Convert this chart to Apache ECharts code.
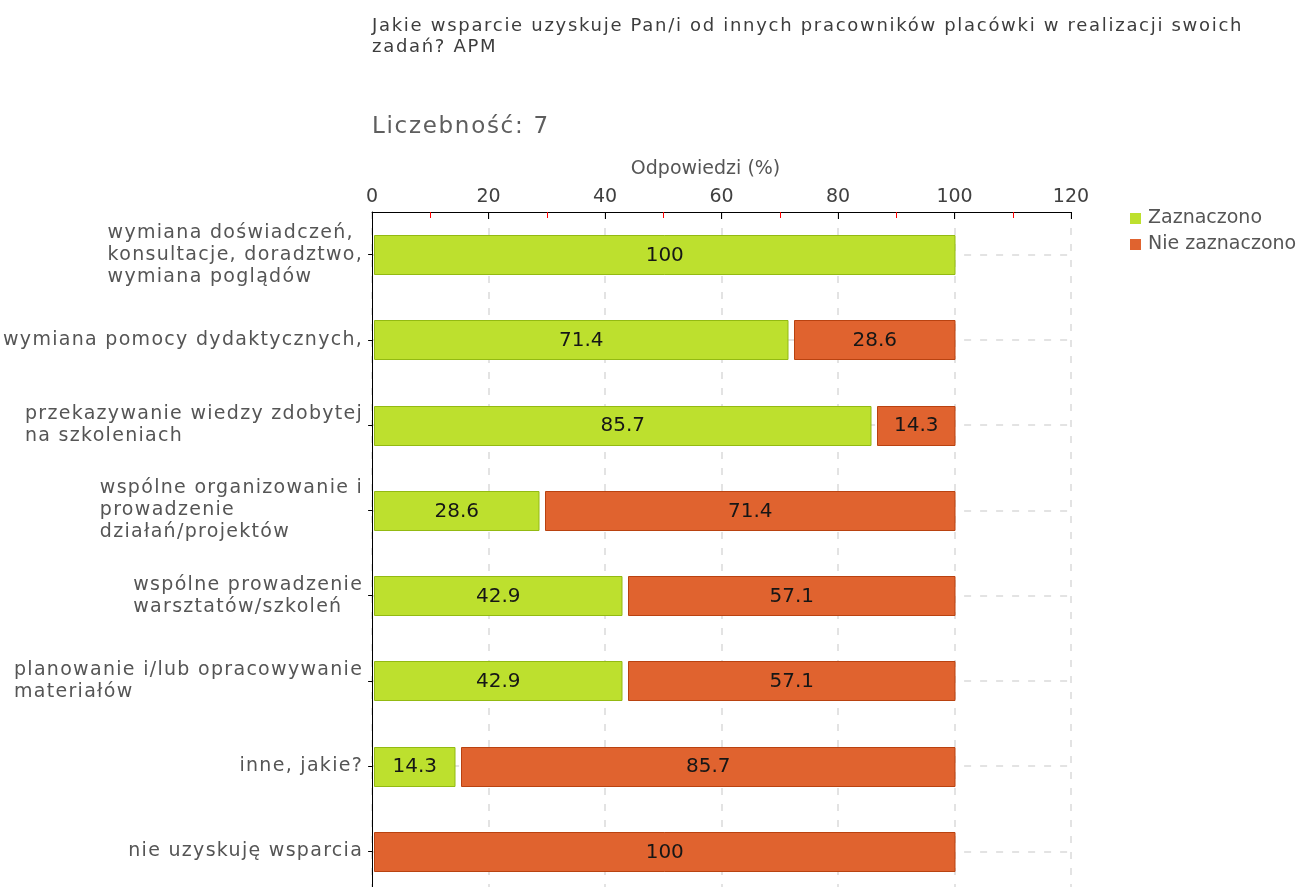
<!DOCTYPE html>
<html>
<head>
<meta charset="utf-8">
<title>Wsparcie od innych pracowników placówki</title>
<script src="https://cdn.jsdelivr.net/npm/echarts@6/dist/echarts.min.js"></script>
<style>
  html, body { margin: 0; padding: 0; background: #fff; overflow: hidden; }
  #chart { width: 1315px; height: 900px; }
</style>
</head>
<body>
<div id="chart"></div>
<script>
// Question, sample size and answer options (top to bottom)
const questionText = 'Jakie wsparcie uzyskuje Pan/i od innych pracowników placówki w realizacji swoich\nzadań? APM';
const sampleText = 'Liczebność: 7';
const axisTitle = 'Odpowiedzi (%)';
const seriesNames = ['Zaznaczono', 'Nie zaznaczono'];

const categories = [
  'wymiana doświadczeń,\nkonsultacje, doradztwo,\nwymiana poglądów',
  'wymiana pomocy dydaktycznych,',
  'przekazywanie wiedzy zdobytej\nna szkoleniach',
  'wspólne organizowanie i\nprowadzenie\ndziałań/projektów',
  'wspólne prowadzenie\nwarsztatów/szkoleń',
  'planowanie i/lub opracowywanie\nmateriałów',
  'inne, jakie?',
  'nie uzyskuję wsparcia'
];

// Share of respondents (%) per option
const zaznaczono     = [100, 71.4, 85.7, 28.6, 42.9, 42.9, 14.3, 0];
const nieZaznaczono  = [0,   28.6, 14.3, 71.4, 57.1, 57.1, 85.7, 100];

const xTicks = { min: 0, max: 120, interval: 20 };

const FONT = 'DejaVu Sans';
const LABEL_FONT = 'DejaVu Sans, Verdana';   // category labels, loosely tracked
const HEAD_FONT = 'DejaVu Sans, Tahoma';     // headings, more loosely tracked
const fills   = ['#bde02e', '#e0632f'];
const strokes = ['#93ba12', '#b94210'];

// Letter spacing for canvas text, chosen by the fallback family in the font
const TRACKING = [['Tahoma', '1.7px'], ['Verdana', '1.3px']];
(function () {
  const proto = CanvasRenderingContext2D.prototype;
  if (!('letterSpacing' in proto)) return;
  const pick = ctx => {
    const f = ctx.font;
    for (const [k, v] of TRACKING) if (f.indexOf(k) >= 0) return v;
    return '0px';
  };
  const fill = proto.fillText, stroke = proto.strokeText, measure = proto.measureText;
  proto.fillText = function () { this.letterSpacing = pick(this); return fill.apply(this, arguments); };
  proto.strokeText = function () { this.letterSpacing = pick(this); return stroke.apply(this, arguments); };
  proto.measureText = function () { this.letterSpacing = pick(this); return measure.apply(this, arguments); };
})();

// Each stacked segment: [category index, start value, segment value]
function segments(values, offsets) {
  return values.map((v, i) => [i, offsets ? offsets[i] : 0, v]);
}

function makeRender(k) {
  return function (params, api) {
    const i = api.value(0);
    const start = api.value(1);
    const val = api.value(2);
    if (!val) return null;
    const p0 = api.coord([start, i]);
    const p1 = api.coord([start + val, i]);
    const h = 39;
    const inset = start === 0 ? 2 : 6;
    const x = Math.round(p0[0] + inset) + 0.5;
    const w = Math.round(p1[0]) - x;
    const y = Math.round(p0[1] - h / 2) + 0.5;
    return {
      type: 'group',
      children: [
        {
          type: 'rect',
          shape: { x: x, y: y, width: w, height: h },
          style: { fill: fills[k], stroke: strokes[k], lineWidth: 1 }
        },
        {
          type: 'text',
          style: {
            text: String(val),
            x: x + w / 2,
            y: p0[1] + 1,
            align: 'center',
            verticalAlign: 'middle',
            fontFamily: FONT,
            fontSize: 20,
            fill: '#161616'
          }
        }
      ]
    };
  };
}

const dash = { color: '#e3e3e3', width: 2, type: [7, 9] };

const chart = echarts.init(document.getElementById('chart'), null, { renderer: 'canvas' });
chart.setOption({
  animation: false,
  backgroundColor: '#fff',
  textStyle: { fontFamily: FONT },
  title: [
    {
      text: questionText,
      left: 367, top: 11,
      textStyle: { fontFamily: HEAD_FONT, fontSize: 18, lineHeight: 21, fontWeight: 'normal', color: '#3d3d3d' }
    },
    {
      text: sampleText,
      left: 367, top: 109,
      textStyle: { fontFamily: HEAD_FONT, fontSize: 23, lineHeight: 26, fontWeight: 'normal', color: '#5e5e5e' }
    }
  ],
  legend: {
    orient: 'vertical',
    left: 1125, top: 204,
    itemWidth: 11, itemHeight: 11, itemGap: 7,
    icon: 'rect',
    textStyle: { fontFamily: FONT, fontSize: 19, lineHeight: 18, color: '#555', padding: [0, 0, 0, 2] },
    data: seriesNames.map((n, k) => ({ name: n, itemStyle: { color: fills[k] } }))
  },
  grid: { left: 372, top: 212, width: 699, height: 682, containLabel: false },
  xAxis: {
    type: 'value',
    position: 'top',
    min: xTicks.min, max: xTicks.max, interval: xTicks.interval,
    name: axisTitle,
    nameLocation: 'middle',
    nameGap: 33,
    nameTextStyle: { fontFamily: FONT, fontSize: 19, color: '#555', padding: [0, 32, 0, 0] },
    axisLine: { show: true, lineStyle: { color: '#000', width: 1 } },
    axisTick: { show: true, inside: true, length: 7, lineStyle: { color: '#000' } },
    minorTick: { show: true, splitNumber: 2, length: 6, lineStyle: { color: '#ff0000' } },
    axisLabel: { margin: 5, fontFamily: FONT, fontSize: 19, color: '#404040' },
    splitLine: { show: true, lineStyle: dash },
    minorSplitLine: { show: false }
  },
  yAxis: {
    type: 'category',
    inverse: true,
    data: categories,
    axisLine: { show: true, lineStyle: { color: '#000', width: 1 } },
    axisTick: { show: true, alignWithLabel: true, length: 4, lineStyle: { color: '#000' } },
    splitLine: { show: true, alignWithLabel: true, lineStyle: dash },
    axisLabel: {
      margin: 9,
      interval: 0,
      align: 'right',
      formatter: v => v.split('\n').map(s => '{l|' + s + '}').join('\n'),
      rich: {
        l: { align: 'left', fontFamily: LABEL_FONT, fontSize: 19, lineHeight: 22, color: '#555' }
      }
    }
  },
  series: [
    {
      name: seriesNames[0],
      type: 'custom',
      renderItem: makeRender(0),
      itemStyle: { color: fills[0] },
      encode: { x: [1, 2], y: 0 },
      data: segments(zaznaczono)
    },
    {
      name: seriesNames[1],
      type: 'custom',
      renderItem: makeRender(1),
      itemStyle: { color: fills[1] },
      encode: { x: [1, 2], y: 0 },
      data: segments(nieZaznaczono, zaznaczono)
    }
  ]
});
</script>
</body>
</html>
